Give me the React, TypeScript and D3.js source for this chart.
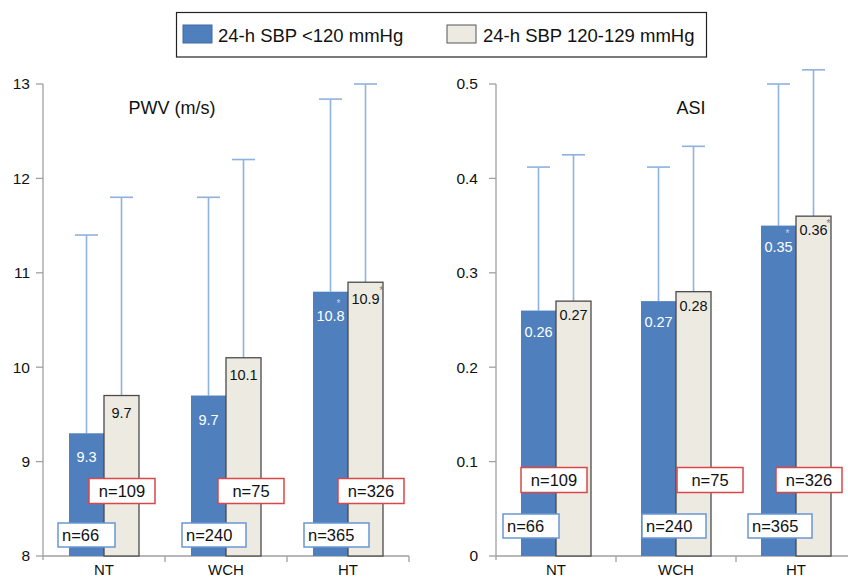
import React from "react";
import * as d3 from "d3";

// categories and series
const categories = ["NT", "WCH", "HT"];
const seriesNames = ["24-h SBP <120 mmHg", "24-h SBP 120-129 mmHg"];

// PWV (m/s): mean and upper error bar
const pwvLow = [9.3, 9.7, 10.8];
const pwvLowTop = [11.4, 11.8, 12.84];
const pwvHigh = [9.7, 10.1, 10.9];
const pwvHighTop = [11.8, 12.2, 13.0];
const pwvTicks = [8, 9, 10, 11, 12, 13];

// ASI
const asiLow = [0.26, 0.27, 0.35];
const asiLowTop = [0.412, 0.412, 0.5];
const asiHigh = [0.27, 0.28, 0.36];
const asiHighTop = [0.425, 0.434, 0.515];
const asiTicks = [0, 0.1, 0.2, 0.3, 0.4, 0.5];

// sample sizes
const nLow = [66, 240, 365];
const nHigh = [109, 75, 326];
const significant = [false, false, true];

const BLUE = "#4f7fbd";
const BEIGE = "#edebe1";
const ERR = "#8fb1de";
const AXIS = "#a0a0a0";
const FONT = "'Liberation Sans', Arial, Helvetica, sans-serif";

const TOP = 84;
const BOTTOM = 556;

type PanelProps = {
  x0: number;
  x1: number;
  domain: [number, number];
  ticks: number[];
  fmt: (v: number) => string;
  valFmt: (v: number) => string;
  low: number[];
  lowTop: number[];
  high: number[];
  highTop: number[];
  title: string;
  titleX: number;
  tickGap: number;
  lowLabelDy: number;
  highLabelDy: number;
  starDy: [number, number];
  starDx: [number, number];
  // annotation box layout (relative to category centre / axis)
  lowBoxDx: number[];
  highBoxDx: number[];
  lowBoxUp: number;
  highBoxUp: number;
  lowBoxW: number[];
};

function Panel(p: PanelProps) {
  const x = d3.scaleBand<string>().domain(categories).range([p.x0, p.x1]).padding(0);
  const bw = x.bandwidth();
  const sub = d3.scaleBand<number>().domain([0, 1]).range([bw / 2 - 35, bw / 2 + 35]).padding(0);
  const y = d3.scaleLinear().domain(p.domain).range([BOTTOM, TOP]);
  const vals = [p.low, p.high];
  const tops = [p.lowTop, p.highTop];

  return (
    <g fontFamily={FONT}>
      {/* y axis */}
      <line x1={p.x0} x2={p.x0} y1={TOP} y2={BOTTOM + 4} stroke={AXIS} strokeWidth={1.3} />
      {p.ticks.map((t) => (
        <g key={t}>
          <line x1={p.x0 - 7} x2={p.x0} y1={y(t)} y2={y(t)} stroke={AXIS} strokeWidth={1.3} />
          <text x={p.x0 - p.tickGap} y={y(t)} dy="0.35em" textAnchor="end" fontSize={15.5} fill="#111">
            {p.fmt(t)}
          </text>
        </g>
      ))}
      {/* x axis */}
      <line x1={p.x0} x2={p.x1} y1={BOTTOM} y2={BOTTOM} stroke={AXIS} strokeWidth={1.3} />
      {categories.map((c) => (
        <line key={c} x1={x(c)! + bw} x2={x(c)! + bw} y1={BOTTOM} y2={BOTTOM + 6} stroke={AXIS} strokeWidth={1.3} />
      ))}
      {categories.map((c) => (
        <text key={c} x={x(c)! + bw / 2} y={575} textAnchor="middle" fontSize={15} fill="#111">
          {c}
        </text>
      ))}
      <text x={p.titleX} y={114} textAnchor="middle" fontSize={18} fill="#111">
        {p.title}
      </text>

      {/* error bars */}
      {vals.map((s, si) =>
        categories.map((c, i) => {
          const cx = x(c)! + sub(si)! + sub.bandwidth() / 2;
          return (
            <g key={`e${si}${c}`} stroke={ERR} strokeWidth={1.6}>
              <line x1={cx} x2={cx} y1={y(s[i])} y2={y(tops[si][i])} />
              <line x1={cx - 11.5} x2={cx + 11.5} y1={y(tops[si][i])} y2={y(tops[si][i])} />
            </g>
          );
        })
      )}

      {/* bars */}
      {vals.map((s, si) =>
        categories.map((c, i) => (
          <rect
            key={`b${si}${c}`}
            x={x(c)! + sub(si)!}
            y={y(s[i])}
            width={sub.bandwidth()}
            height={BOTTOM - y(s[i])}
            fill={si === 0 ? BLUE : BEIGE}
            stroke={si === 0 ? "none" : "#4a4a4a"}
            strokeWidth={1.3}
          />
        ))
      )}

      {/* value labels */}
      {vals.map((s, si) =>
        categories.map((c, i) => {
          const cx = x(c)! + sub(si)! + sub.bandwidth() / 2;
          const ty = y(s[i]) + (si === 0 ? p.lowLabelDy : p.highLabelDy);
          return (
            <g key={`l${si}${c}`}>
              <text x={cx} y={ty} textAnchor="middle" fontSize={14.5} fill={si === 0 ? "#ffffff" : "#111"}>
                {p.valFmt(s[i])}
              </text>
              {significant[i] && (
                <text
                  x={cx + p.starDx[si]}
                  y={y(s[i]) + p.starDy[si]}
                  textAnchor="middle"
                  fontSize={10}
                  fill={si === 0 ? "#c4d4ee" : "#777"}
                >
                  *
                </text>
              )}
            </g>
          );
        })
      )}

      {/* sample size boxes */}
      {categories.map((c, i) => {
        const cx = x(c)! + bw / 2;
        const bx = cx + p.lowBoxDx[i];
        const by = BOTTOM - p.lowBoxUp - 12;
        const rx = cx + p.highBoxDx[i];
        const ry = BOTTOM - p.highBoxUp - 12.5;
        return (
          <g key={`n${c}`}>
            <rect x={bx} y={by} width={p.lowBoxW[i]} height={24} fill="#fff" stroke="#6a97d2" strokeWidth={1.5} />
            <text x={bx + 4} y={by + 18} fontSize={16.5} fill="#111">{`n=${nLow[i]}`}</text>
            <rect x={rx} y={ry} width={66} height={25} fill="#fff" stroke="#d9474a" strokeWidth={1.5} />
            <text x={rx + 33} y={ry + 18.5} textAnchor="middle" fontSize={16.5} fill="#111">{`n=${nHigh[i]}`}</text>
          </g>
        );
      })}
    </g>
  );
}

function Legend() {
  const items = [
    { name: seriesNames[0], color: BLUE, sx: 183, tx: 218 },
    { name: seriesNames[1], color: BEIGE, sx: 447, tx: 483 },
  ];
  return (
    <g fontFamily={FONT}>
      <rect x={176.5} y={12.5} width={530} height={44.5} fill="#fff" stroke="#222" strokeWidth={1.2} />
      {items.map((it) => (
        <g key={it.name}>
          <rect x={it.sx} y={25} width={29} height={18} fill={it.color} stroke={it.color === BLUE ? "#3e6aa3" : "#555"} strokeWidth={1} />
          <text x={it.tx} y={42} fontSize={18.5} fill="#111">
            {it.name}
          </text>
        </g>
      ))}
    </g>
  );
}

export default function App() {
  return (
    <div style={{ position: "absolute", left: 0, top: 0 }}>
      <svg width={848} height={577} style={{ display: "block", background: "#fff" }}>
        <Panel
          x0={43}
          x1={409}
          domain={[8, 13]}
          ticks={pwvTicks}
          fmt={d3.format("d")}
          valFmt={d3.format(".1f")}
          low={pwvLow}
          lowTop={pwvLowTop}
          high={pwvHigh}
          highTop={pwvHighTop}
          title="PWV (m/s)"
          titleX={172}
          tickGap={13}
          lowLabelDy={29}
          highLabelDy={22}
          starDx={[8, 16]}
          starDy={[15, 12]}
          lowBoxDx={[-46, -44, -44]}
          highBoxDx={[-15, -8, -10]}
          lowBoxUp={21}
          highBoxUp={65}
          lowBoxW={[57, 64, 65]}
        />
        <Panel
          x0={496}
          x1={856}
          domain={[0, 0.5]}
          ticks={asiTicks}
          fmt={(v) => (v === 0 ? "0" : d3.format(".1f")(v))}
          valFmt={d3.format(".2f")}
          low={asiLow}
          lowTop={asiLowTop}
          high={asiHigh}
          highTop={asiHighTop}
          title="ASI"
          titleX={691}
          tickGap={18}
          lowLabelDy={26}
          highLabelDy={19}
          starDx={[9, 15]}
          starDy={[11, 11]}
          lowBoxDx={[-53, -34, -48]}
          highBoxDx={[-35, 1, -20]}
          lowBoxUp={30}
          highBoxUp={76}
          lowBoxW={[56, 64, 64]}
        />
        <Legend />
      </svg>
    </div>
  );
}
